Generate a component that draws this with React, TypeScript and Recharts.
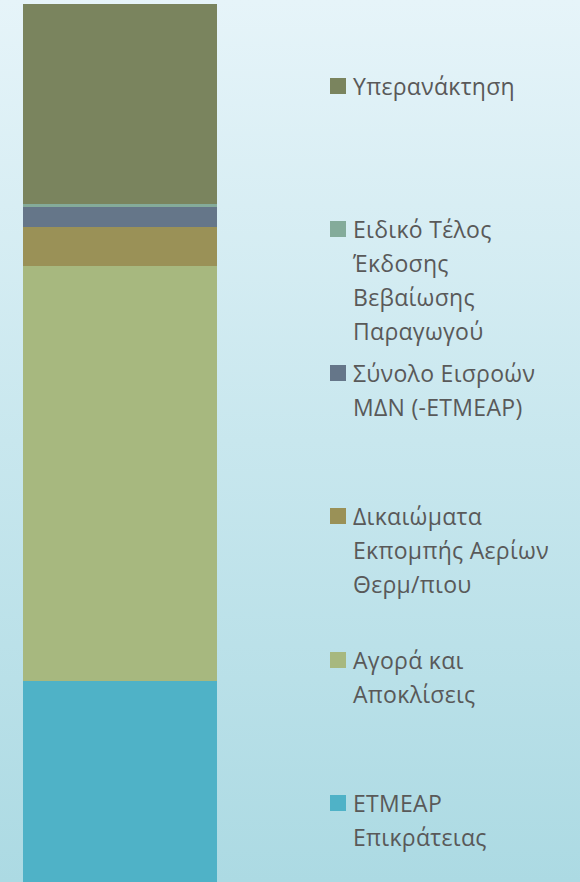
import React from 'react';
import { BarChart, Bar, XAxis, YAxis } from 'recharts';

// single stacked column
const categories = ['Σύνολο'];
const seriesKeys = ['etmeap', 'agora', 'dikaiomata', 'eisroes', 'eidiko', 'yperanaktisi'];
const seriesNames = [
  'ETMEAP\nΕπικράτειας',
  'Αγορά και\nΑποκλίσεις',
  'Δικαιώματα\nΕκπομπής Αερίων\nΘερμ/πιου',
  'Σύνολο Εισροών\nΜΔΝ (-ΕΤΜΕΑΡ)',
  'Ειδικό Τέλος\nΈκδοσης\nΒεβαίωσης\nΠαραγωγού',
  'Υπερανάκτηση',
];
const seriesValues = [201, 415, 39, 20, 3, 200];
const COLORS = ['#4fb2c7', '#a7b87f', '#9a9157', '#657689', '#84ab9a', '#7a845e'];

const chartData = categories.map((name) => {
  const row: Record<string, string | number> = { name };
  seriesKeys.forEach((k, i) => {
    row[k] = seriesValues[i];
  });
  return row;
});

const total = seriesValues.reduce((a, b) => a + b, 0);

export default function App() {
  // legend is drawn top to bottom in reverse stacking order
  const legendItems = seriesKeys.map((k, i) => ({ key: k, name: seriesNames[i], color: COLORS[i] })).reverse();

  return (
    <div
      style={{
        position: 'absolute',
        left: 0,
        top: 0,
        width: 580,
        height: 882,
        overflow: 'hidden',
        background: 'linear-gradient(to bottom, #e6f4f9 0%, #c8e7ee 50%, #acdae3 100%)',
        fontFamily: '"Open Sans", sans-serif',
      }}
    >
      <BarChart
        width={580}
        height={882}
        data={chartData}
        margin={{ top: 4, right: 363, bottom: 0, left: 23 }}
        barCategoryGap={0}
      >
        <XAxis dataKey="name" hide />
        <YAxis hide domain={[0, total]} />
        {seriesKeys.map((k, i) => (
          <Bar
            key={k}
            dataKey={k}
            name={seriesNames[i]}
            stackId="a"
            fill={COLORS[i]}
            isAnimationActive={false}
          />
        ))}
      </BarChart>

      {legendItems.map((item, i) => (
        <div
          key={item.key}
          style={{
            position: 'absolute',
            left: 330,
            top: 69 + i * 143.4,
            display: 'flex',
            alignItems: 'flex-start',
          }}
        >
          <span
            style={{
              width: 16,
              height: 16,
              marginTop: 9,
              marginRight: 7,
              background: item.color,
              flexShrink: 0,
            }}
          />
          <span
            style={{
              whiteSpace: 'pre-line',
              fontSize: 23,
              letterSpacing: 0.3,
              lineHeight: '34px',
              color: '#595959',
            }}
          >
            {item.name}
          </span>
        </div>
      ))}
    </div>
  );
}
